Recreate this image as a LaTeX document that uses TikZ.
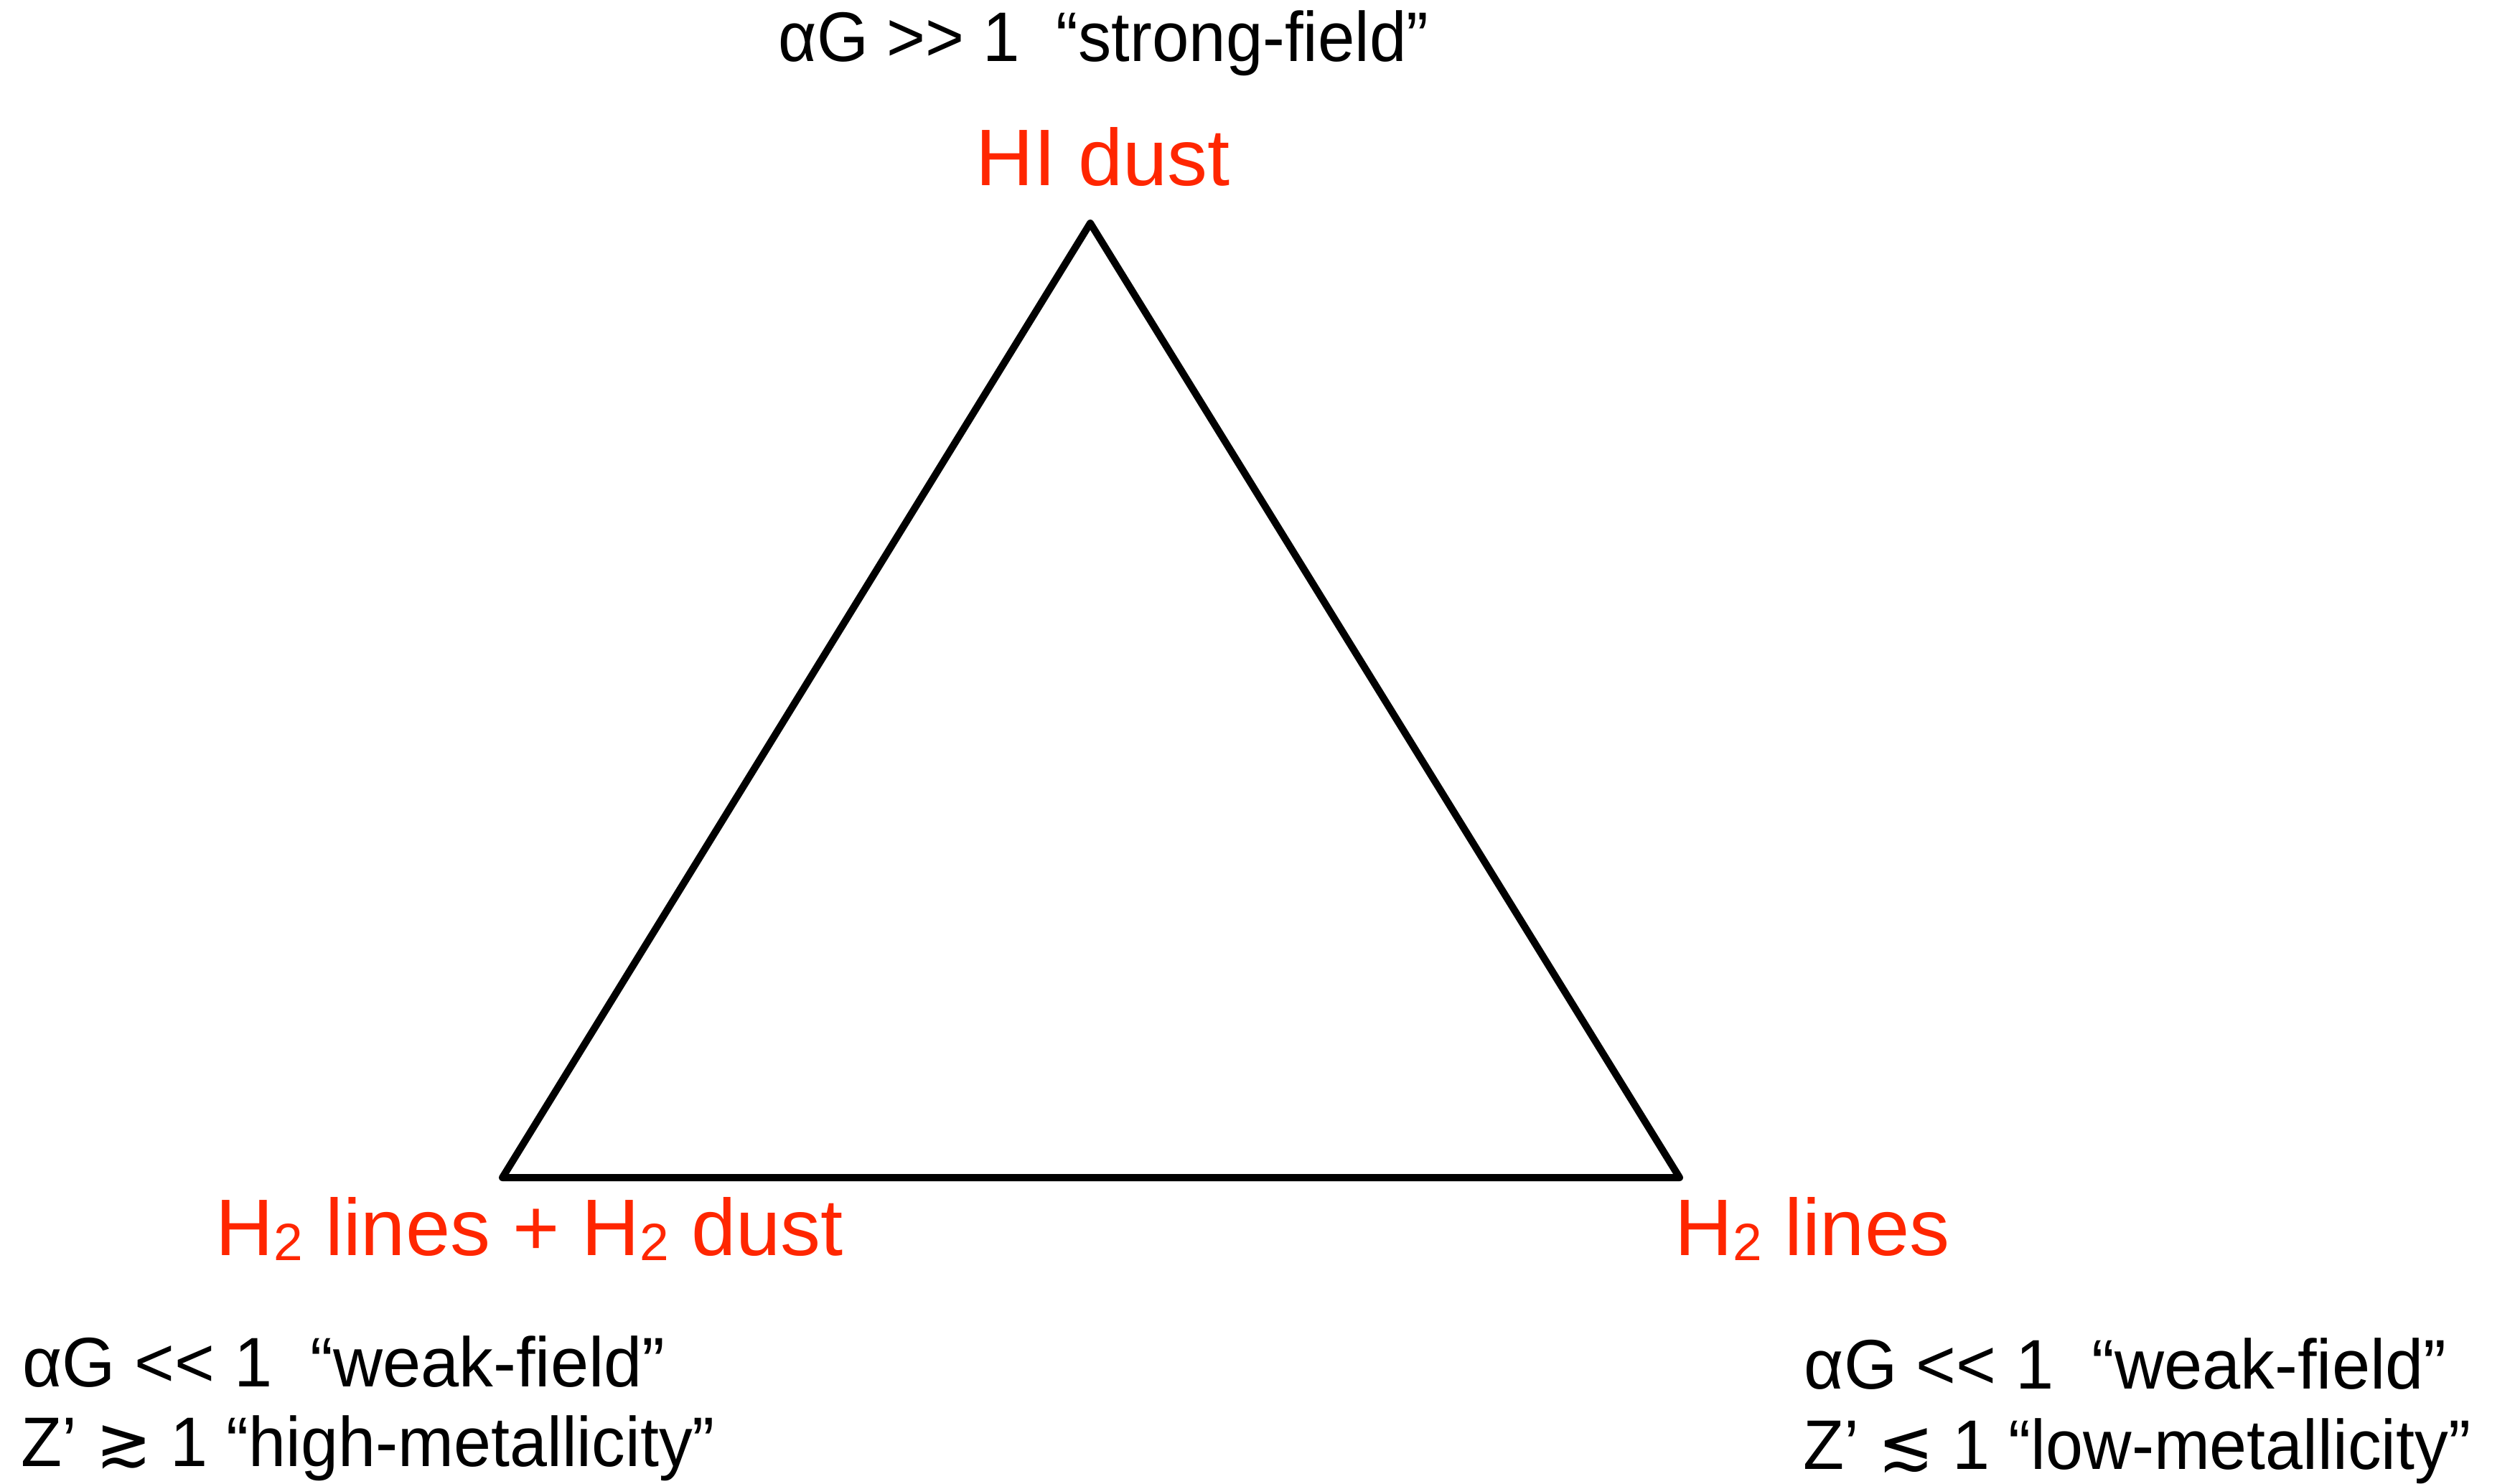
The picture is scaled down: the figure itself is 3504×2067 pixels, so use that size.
\documentclass[tikz,border=0pt]{standalone}
\usepackage{fontspec}
\setmainfont{Liberation Sans}[Ligatures=TeXOff]
\newfontfamily\symfont{DejaVu Sans}
\definecolor{labred}{RGB}{255,38,0}
\newcommand\subtwo{\raisebox{-0.07cm}{\fontsize{20.8}{21}\selectfont 2}}
\newcommand\narrowtext[2]{\scalebox{#1}[1]{#2}}
\tikzset{
  cond/.style={anchor=base west, inner sep=0pt, font=\fontsize{27.8}{33}\selectfont, text=black},
  phase/.style={anchor=base west, inner sep=0pt, font=\fontsize{31.8}{38}\selectfont, text=labred},
  edge/.style={line width=0.1cm, line join=round, line cap=round, draw=black}
}
\begin{document}
\begin{tikzpicture}[x=0.01cm,y=-0.01cm]
\useasboundingbox (0,0) rectangle (3504,2067);
\coordinate (top) at (1519,311);
\coordinate (bl) at (700,1641);
\coordinate (br) at (2340,1641);
\draw[edge] (top) -- (bl) -- (br) -- cycle;

\node[cond] (strong) at (1084,86) {\narrowtext{0.945}{αG >> 1~~“strong-field”}};
\node[phase] (hid) at (1359,259) {HI dust};
\node[phase] (h2both) at (300,1749) {H\subtwo{} lines + H\subtwo{} dust};
\node[phase] (h2l) at (2333,1749) {H\subtwo{} lines};

\node[cond] (lw) at (31,1932) {\narrowtext{0.978}{αG << 1~~“weak-field”}};
\node[cond] (lz) at (29,2043) {\narrowtext{0.956}{Z’ {\symfont ≳} 1 “high-metallicity”}};
\node[cond] (rw) at (2513,1935) {\narrowtext{0.978}{αG << 1~~“weak-field”}};
\node[cond] (rz) at (2512,2047) {\narrowtext{0.956}{Z’ {\symfont ≲} 1 “low-metallicity”}};
\end{tikzpicture}
\end{document}
